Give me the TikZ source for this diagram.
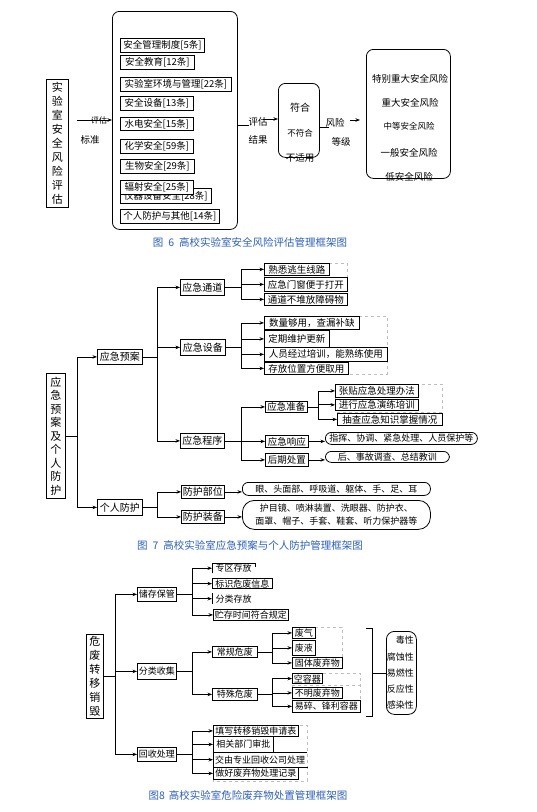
\documentclass[tikz,border=0pt]{standalone}
\usepackage{fontspec}
\setmainfont{Noto Sans CJK SC}
\usetikzlibrary{arrows.meta}
\definecolor{capblue}{RGB}{45,95,185}
\definecolor{framegray}{RGB}{190,190,190}

\begin{document}
\begin{tikzpicture}[x=1pt, y=-1pt,
    bx/.style={draw, line width=0.8pt, inner sep=1pt, anchor=north west, font=\fontsize{9.5}{11}\selectfont},
    rbx/.style={bx, rounded corners=6pt},
    tx/.style={inner sep=0pt, font=\fontsize{9.5}{11}\selectfont},
    small/.style={font=\fontsize{9}{11}\selectfont},
    vert/.style={bx, align=center, font=\fontsize{11}{14}\selectfont},
    dashbox/.style={draw=framegray, dashed, line width=0.6pt},
    ln/.style={line width=0.7pt},
    arr/.style={ln, -{Stealth[length=4.5pt, width=3.5pt]}},
    figcap/.style={text=capblue, font=\fontsize{10.5}{12}\selectfont}]
  \useasboundingbox (0,0) rectangle (536,812);

  % figure 6
  \node[vert, minimum width=22pt, minimum height=128pt] (sypg) at (46,79) {实\\验\\室\\安\\全\\风\\险\\评\\估};
  \node[rbx, rounded corners=7pt, minimum width=125pt, minimum height=218pt] (pgbz) at (112,11) {};
  \node[bx, minimum width=84pt, minimum height=14pt] (aqzd) at (120,38) {安全管理制度[5条]};
  \node[bx, minimum width=74pt, minimum height=14pt] (aqjy) at (120,55) {安全教育[12条]};
  \node[bx, minimum width=111pt, minimum height=14pt] (syhj) at (120,77) {实验室环境与管理[22条]};
  \node[bx, minimum width=73pt, minimum height=14pt] (aqsb) at (120,96) {安全设备[13条]};
  \node[bx, minimum width=73pt, minimum height=13pt] (sdaq) at (120,117) {水电安全[15条]};
  \node[bx, minimum width=73pt, minimum height=14pt] (hxaq) at (120,139) {化学安全[59条]};
  \node[bx, minimum width=74pt, minimum height=14pt] (swaq) at (120,159) {生物安全[29条]};
  \node[bx, minimum width=91pt, minimum height=15pt] (yqsb) at (120,188) {仪器设备安全[28条]};
  \node[bx, fill=white, minimum width=73pt, minimum height=14pt] (fsaq) at (120,180) {辐射安全[25条]};
  \node[bx, minimum width=99pt, minimum height=14pt] (grqt) at (120,209) {个人防护与其他[14条]};

  \coordinate (bzin) at (77,120);
  \draw[arr] (bzin) -- (bzin -| pgbz.west);
  \node[tx, font=\fontsize{8}{9}\selectfont] (bzl1) at (99,120) {评估};
  \node[tx] (bzl2) at (90,140) {标准};

  \draw[ln] ([yshift=-5pt]pgbz.east) -- ++(11,0);
  \node[tx] (jgl1) at (258,122) {评估};
  \node[tx] (jgl2) at (258,140) {结果};
  \coordinate (jgin) at (263,119);

  \node[rbx, rounded corners=7pt, minimum width=41pt, minimum height=74pt] (fhbz) at (278,83) {};
  \draw[arr] (jgin) -- (jgin -| fhbz.west);
  \node[tx, font=\fontsize{10}{12}\selectfont] (fh1) at (300,108) {符合};
  \node[tx, font=\fontsize{8.5}{10}\selectfont] (fh2) at (300,133) {不符合};
  \node[tx] (fh3) at (300,158) {不适用};

  \draw[ln] ([yshift=-7pt]fhbz.east) -- ++(9,0);
  \node[tx] (djl1) at (335,123) {风险};
  \node[tx] (djl2) at (341,142) {等级};
  \coordinate (djin) at (350,120);
  \coordinate (djout) at (360,120);
  \draw[arr] (djin) -- (djout);

  \node[rbx, rounded corners=7pt, minimum width=84pt, minimum height=129pt] (fxbz) at (366,49) {};
  \node[tx] (fx1) at (410,79) {特别重大安全风险};
  \node[tx] (fx2) at (410,103) {重大安全风险};
  \node[tx, font=\fontsize{8.5}{10}\selectfont] (fx3) at (409,126) {中等安全风险};
  \node[tx] (fx4) at (409,153) {一般安全风险};
  \node[tx] (fx5) at (409,177) {低安全风险};

  \node[figcap] (cap6) at (250,242) {图\hspace{5pt}6\hspace{5pt}高校实验室安全风险评估管理框架图};

  % figure 7
  \node[vert, minimum width=19pt, minimum height=125pt, font=\fontsize{11}{13.5}\selectfont] (yjfh) at (46,373) {应\\急\\预\\案\\及\\个\\人\\防\\护};
  \node[bx, font=\fontsize{10}{12}\selectfont, minimum width=45pt, minimum height=15pt] (yjya) at (97,349) {应急预案};
  \node[bx, font=\fontsize{10}{12}\selectfont, minimum width=45pt, minimum height=16pt] (grfh) at (97,499) {个人防护};
  \node[bx, font=\fontsize{10}{12}\selectfont, minimum width=44pt, minimum height=16pt] (yjtd) at (180,279) {应急通道};
  \node[bx, font=\fontsize{10}{12}\selectfont, minimum width=45pt, minimum height=16pt] (yjsb) at (180,339) {应急设备};
  \node[bx, font=\fontsize{10}{12}\selectfont, minimum width=44pt, minimum height=15pt] (yjcx) at (180,433) {应急程序};
  \node[bx, font=\fontsize{10}{12}\selectfont, minimum width=43pt, minimum height=13pt] (fhbw) at (181,485) {防护部位};
  \node[bx, font=\fontsize{10}{12}\selectfont, minimum width=43pt, minimum height=13pt] (fhzb) at (181,510) {防护装备};

  \draw[dashbox] (264,263) rectangle (347,277);
  \node[bx, minimum width=65pt, minimum height=12pt] (td1) at (264,263) {熟悉逃生线路};
  \node[bx, minimum width=83pt, minimum height=14pt] (td2) at (264,277) {应急门窗便于打开};
  \node[bx, minimum width=83pt, minimum height=12pt] (td3) at (264,293) {通道不堆放障碍物};

  \draw[dashbox] (264,316) rectangle (387,374);
  \node[bx, minimum width=95pt, minimum height=13pt] (sb1) at (264,316) {数量够用，查漏补缺};
  \node[bx, minimum width=65pt, minimum height=17pt] (sb2) at (264,330) {定期维护更新};
  \node[bx, minimum width=123pt, minimum height=14pt] (sb3) at (264,347) {人员经过培训，能熟练使用};
  \node[bx, minimum width=84pt, minimum height=12pt] (sb4) at (264,362) {存放位置方便取用};

  \node[bx, minimum width=42pt, minimum height=11pt] (yjzb) at (265,401) {应急准备};
  \node[bx, minimum width=43pt, minimum height=12pt] (yjxy) at (265,435) {应急响应};
  \node[bx, minimum width=43pt, minimum height=13pt] (hqcz) at (265,453) {后期处置};

  \draw[dashbox] (335,384) rectangle (442,412);
  \node[bx, minimum width=83pt, minimum height=13pt] (zb1) at (335,384) {张贴应急处理办法};
  \node[bx, minimum width=83pt, minimum height=10pt] (zb2) at (335,399) {进行应急演练培训};
  \node[bx, minimum width=105pt, minimum height=12pt] (zb3) at (337,413) {抽查应急知识掌握情况};

  \node[rbx, small, minimum width=152pt, minimum height=12pt] (xynr) at (325,432) {指挥、协调、紧急处理、人员保护等};
  \node[rbx, small, minimum width=124pt, minimum height=11pt] (cznr) at (325,451) {后、事故调查、总结教训};
  \node[rbx, small, minimum width=188pt, minimum height=13pt] (bwnr) at (242,482) {眼、头面部、呼吸道、躯体、手、足、耳};
  \node[rbx, small, rounded corners=12pt, align=center, font=\fontsize{9}{13}\selectfont, minimum width=188pt, minimum height=29pt] (zbnr) at (242,500) {护目镜、喷淋装置、洗眼器、防护衣、\\面罩、帽子、手套、鞋套、听力保护器等};

  \draw[arr] (yjfh.east) -- ++(12,0) |- (yjya.west);
  \draw[arr] (yjfh.east) -- ++(12,0) |- (grfh.west);
  \foreach \n in {yjtd,yjsb,yjcx} \draw[arr] (yjya.east) -- ++(15,0) |- (\n.west);
  \foreach \n in {fhbw,fhzb} \draw[arr] (grfh.east) -- ++(15,0) |- (\n.west);
  \foreach \n in {td1,td2,td3} \draw[arr] (yjtd.east) -- ++(17,0) |- (\n.west);
  \foreach \n in {sb1,sb2,sb3,sb4} \draw[arr] (yjsb.east) -- ++(16,0) |- (\n.west);
  \foreach \n in {yjzb,yjxy,hqcz} \draw[arr] (yjcx.east) -- ++(17,0) |- (\n.west);
  \foreach \n in {zb1,zb2,zb3} \draw[arr] (yjzb.east) -- ++(11,0) |- (\n.west);
  \draw[arr] (yjxy.east) -- (yjxy.east -| xynr.west);
  \draw[arr] (hqcz.east) -- (hqcz.east -| cznr.west);
  \draw[arr] (fhbw.east) -- (fhbw.east -| bwnr.west);
  \draw[arr] (fhzb.east) -- (fhzb.east -| zbnr.west);

  \node[figcap] (cap7) at (250,545) {图\hspace{5pt}7\hspace{5pt}高校实验室应急预案与个人防护管理框架图};

  % figure 8
  \node[vert, minimum width=17pt, minimum height=84pt] (wfzy) at (86,634) {危\\废\\转\\移\\销\\毁};
  \node[bx, small, minimum width=39pt, minimum height=14pt] (ccbg) at (137,587) {储存保管};
  \node[bx, small, minimum width=39pt, minimum height=16pt] (flsj) at (137,663) {分类收集};
  \node[bx, small, minimum width=39pt, minimum height=14pt] (hscl) at (137,747) {回收处理};

  \node[tx, small, anchor=north west, minimum width=43pt, minimum height=10pt] (zqcf) at (212,563) {专区存放};
  \draw[ln] (zqcf.south west) -- (zqcf.north west) -- (zqcf.north east) -- ++(0,4);
  \node[bx, small, minimum width=60pt, minimum height=10pt] (bsxx) at (212,578) {标识危废信息};
  \node[tx, small, anchor=north west, minimum width=43pt, minimum height=11pt] (flcf) at (212,593) {分类存放};
  \draw[ln] (flcf.north west) -- (flcf.south west);
  \node[bx, small, minimum width=75pt, minimum height=11pt] (zcsj) at (213,609) {贮存时间符合规定};

  \node[bx, small, minimum width=45pt, minimum height=11pt] (cgwf) at (212,646) {常规危废};
  \node[bx, small, minimum width=45pt, minimum height=12pt] (tswf) at (212,688) {特殊危废};

  \draw[dashbox] (292,627) rectangle (342,668);
  \node[bx, small, minimum width=23pt, minimum height=11pt] (fq) at (292,627) {废气};
  \node[bx, small, minimum width=23pt, minimum height=15pt] (fy) at (292,640) {废液};
  \node[bx, small, minimum width=50pt, minimum height=11pt] (gtfw) at (292,657) {固体废弃物};

  \draw[dashbox] (292,673) rectangle (360,712);
  \draw[dashbox] (292,685) -- (360,685);
  \node[bx, small, minimum width=30pt, minimum height=10pt] (krq) at (292,673) {空容器};
  \node[bx, small, minimum width=50pt, minimum height=11pt] (bmfw) at (292,687) {不明废弃物};
  \node[bx, small, minimum width=68pt, minimum height=12pt] (ysrq) at (292,700) {易碎、锋利容器};

  \draw[ln] (366,628) -- (372,628) -- (372,716) -- (366,716);
  \coordinate (kh) at (372,673);
  \node[rbx, rounded corners=8pt, minimum width=30pt, minimum height=83pt] (txbz) at (386,631) {};
  \draw[ln] (kh) -- (kh -| txbz.west);
  \node[tx, small, anchor=east] (tx1) at (414,640) {毒性};
  \node[tx, small, anchor=east] (tx2) at (414,657) {腐蚀性};
  \node[tx, small, anchor=east] (tx3) at (414,673) {易燃性};
  \node[tx, small, anchor=east] (tx4) at (414,689) {反应性};
  \node[tx, small, anchor=east] (tx5) at (414,705) {感染性};

  \draw[dashbox] (213,725) rectangle (307,781);
  \node[bx, small, minimum width=85pt, minimum height=11pt] (txsq) at (213,725) {填写转移销毁申请表};
  \node[bx, small, minimum width=60pt, minimum height=16pt] (xgsp) at (213,736) {相关部门审批};
  \node[tx, small, anchor=north west, minimum width=94pt, minimum height=15pt] (jyzy) at (213,752) {交由专业回收公司处理};
  \draw[ln] (jyzy.north east) -- (jyzy.north west) -- (jyzy.south west);
  \node[bx, small, minimum width=85pt, minimum height=12pt] (zhjl) at (213,767) {做好废弃物处理记录};
  \draw[ln] (zhjl.north east) -- ++(9,0);

  \foreach \n in {ccbg,flsj,hscl} \draw[arr] (wfzy.east) -- ++(12,0) |- (\n.west);
  \foreach \n in {zqcf,bsxx,flcf,zcsj} \draw[arr] (ccbg.east) -- ++(16,0) |- (\n.west);
  \foreach \n in {cgwf,tswf} \draw[arr] (flsj.east) -- ++(16,0) |- (\n.west);
  \foreach \n in {fq,fy,gtfw} \draw[arr] (cgwf.east) -- ++(15,0) |- (\n.west);
  \foreach \n in {krq,bmfw,ysrq} \draw[arr] (tswf.east) -- ++(15,0) |- (\n.west);
  \foreach \n in {txsq,xgsp,jyzy,zhjl} \draw[arr] (hscl.east) -- ++(16,0) |- (\n.west);

  \node[figcap] (cap8) at (248,795) {图8\hspace{4pt}高校实验室危险废弃物处置管理框架图};
\end{tikzpicture}
\end{document}
